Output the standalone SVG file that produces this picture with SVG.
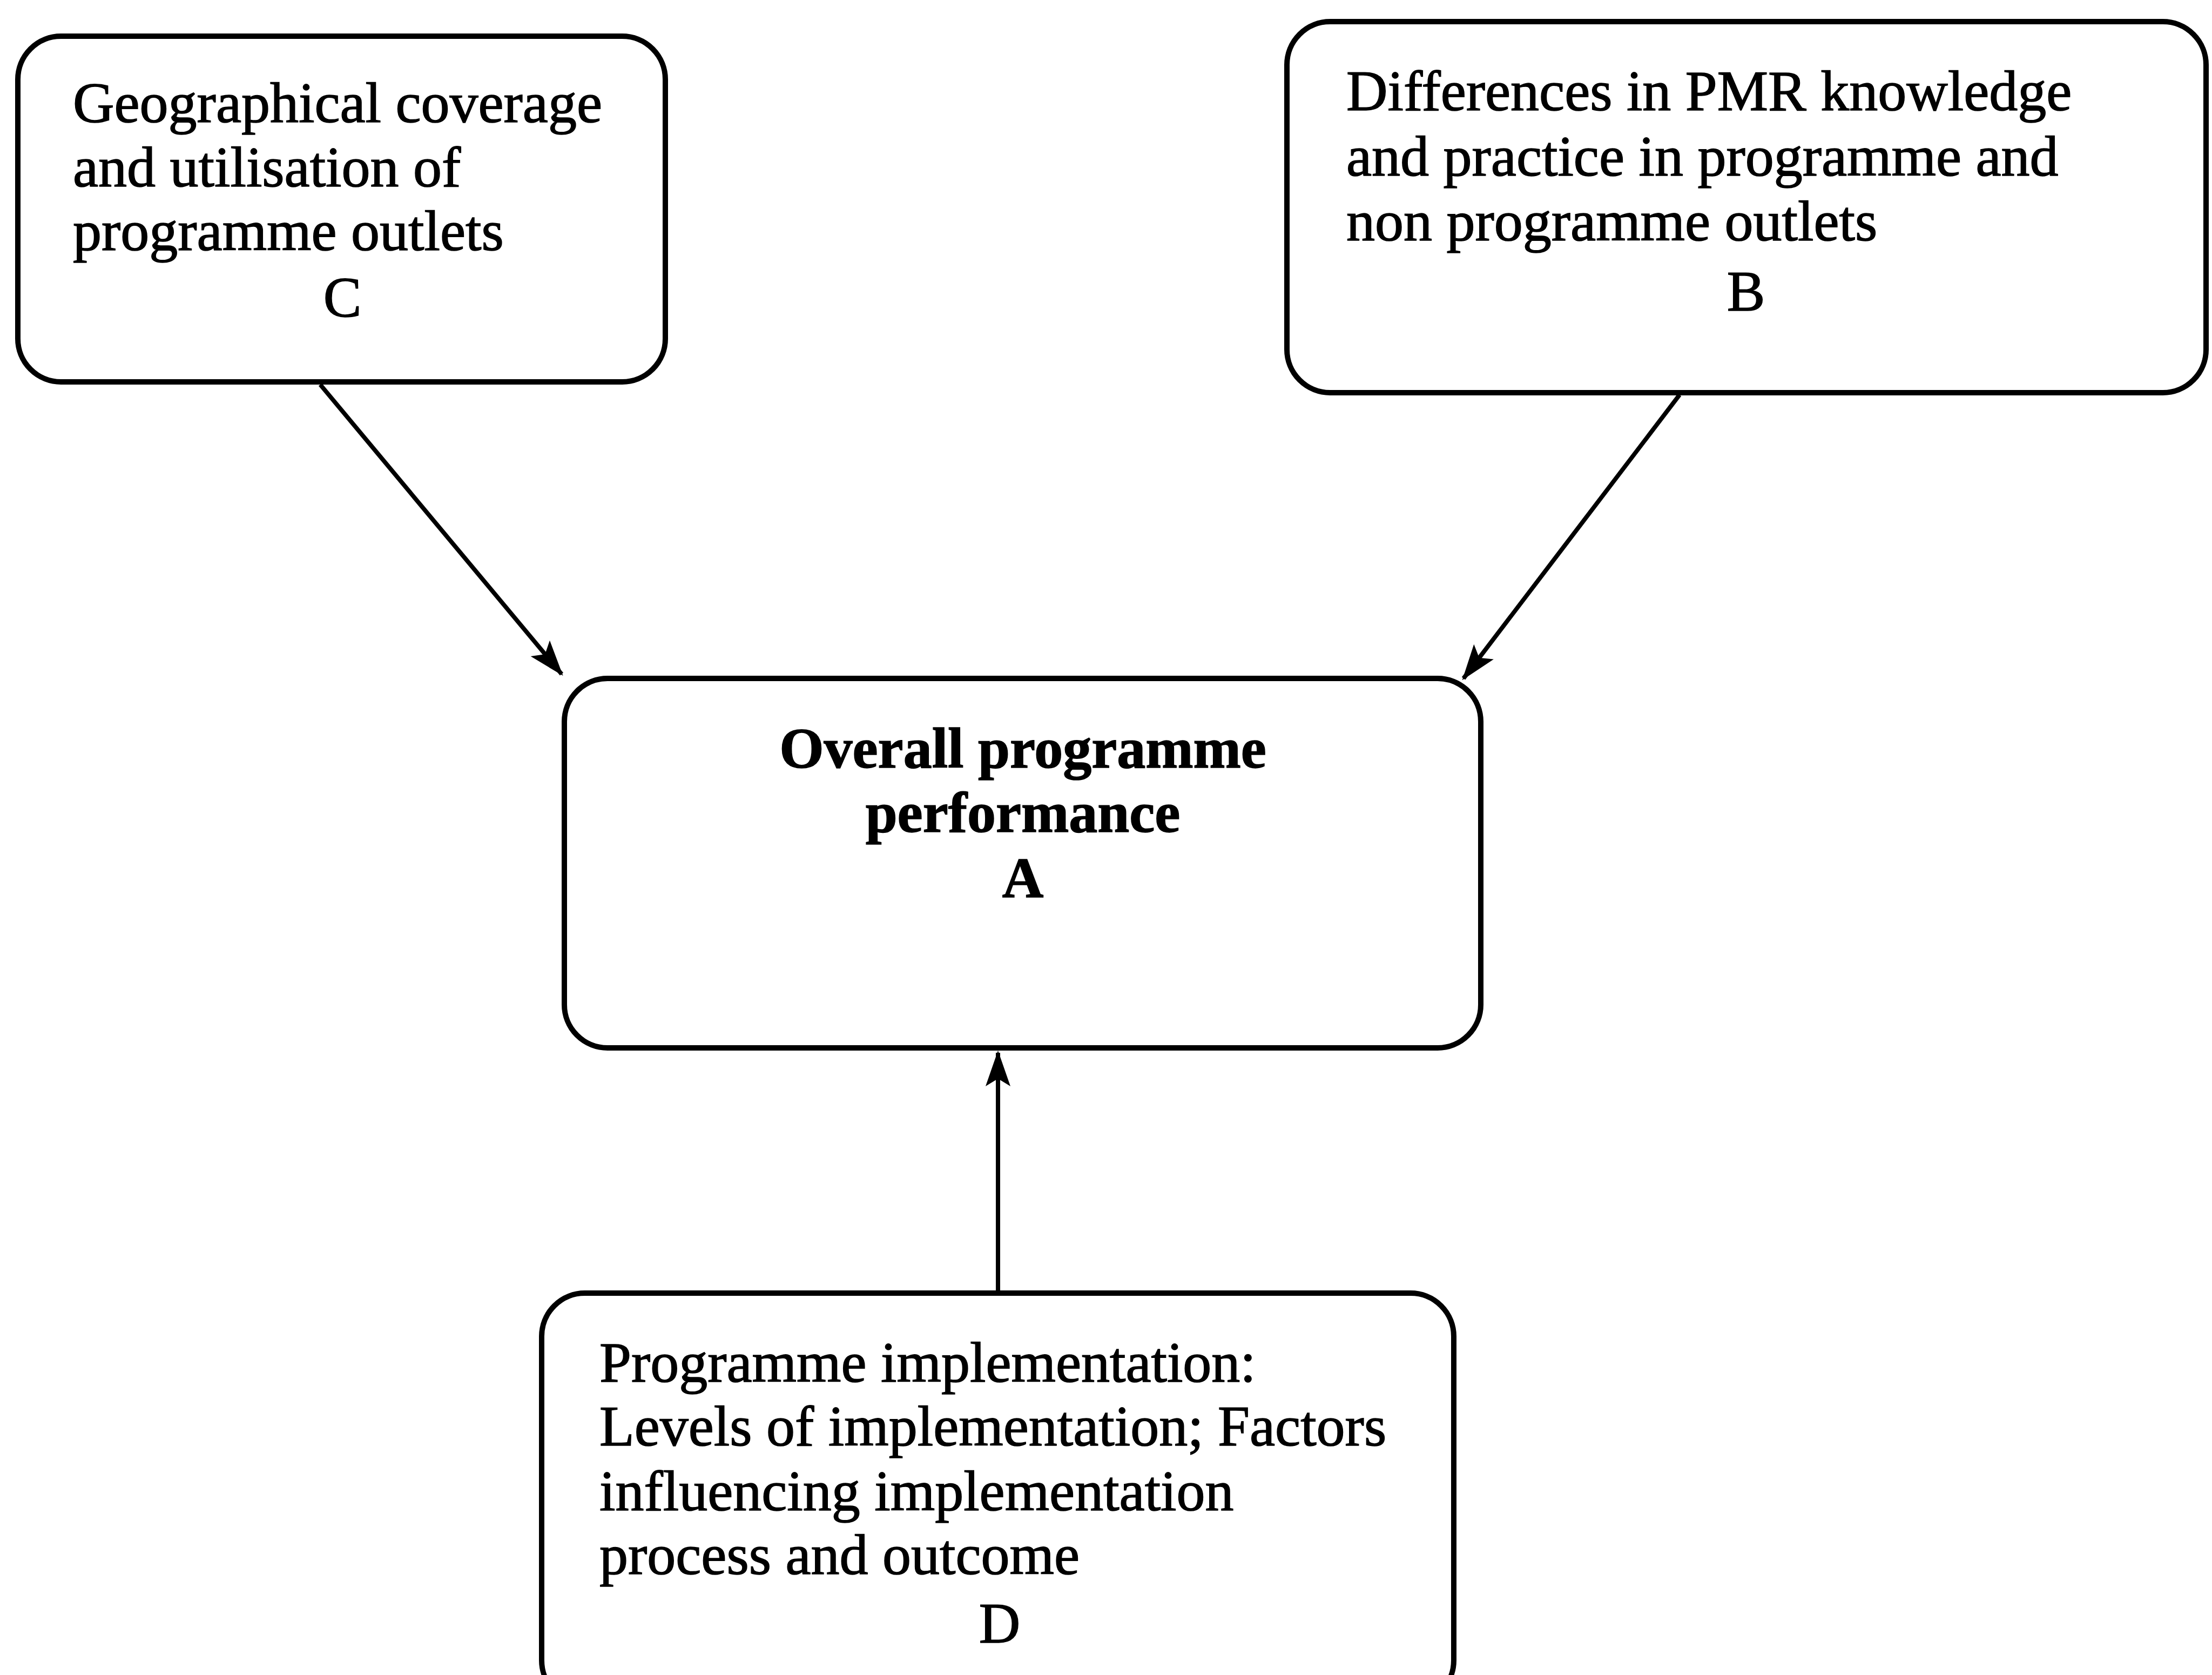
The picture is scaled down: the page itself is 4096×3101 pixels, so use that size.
<svg xmlns="http://www.w3.org/2000/svg" width="4096" height="3101" viewBox="0 0 4096 3101">
<style>
.box{fill:#fff;stroke:#000;stroke-width:10}
.t{font-family:"Liberation Serif","Times New Roman",serif;font-size:106px;fill:#000;stroke:#000;stroke-width:1.5}
.b{font-weight:bold}
.m{text-anchor:middle}
.conn{stroke:#000;stroke-width:8;fill:none}
</style>
<defs>
<marker id="ah" markerUnits="userSpaceOnUse" markerWidth="80" markerHeight="56" refX="62" refY="23" orient="auto">
<path d="M0,0 L66,23 L0,46 L14,23 z" fill="#000"/>
</marker>
</defs>
<rect width="4096" height="3101" fill="#fff"/>
<g id="connectors">
<line class="conn" x1="593" y1="712" x2="1040" y2="1248" marker-end="url(#ah)"/>
<line class="conn" x1="3110" y1="731" x2="2710" y2="1256" marker-end="url(#ah)"/>
<line class="conn" x1="1848" y1="2394" x2="1848" y2="1949" marker-end="url(#ah)"/>
</g>
<g id="nodeC">
<rect class="box" x="33" y="67" width="1199" height="640" rx="80" ry="80"/>
<text class="t" x="135" y="226">Geographical coverage</text>
<text class="t" x="135" y="345">and utilisation of</text>
<text class="t" x="135" y="463">programme outlets</text>
<text class="t m" x="634" y="586">C</text>
</g>
<g id="nodeB">
<rect class="box" x="2383" y="40" width="1702" height="687" rx="80" ry="80"/>
<text class="t" x="2493" y="204">Differences in PMR knowledge</text>
<text class="t" x="2493" y="325">and practice in programme and</text>
<text class="t" x="2493" y="445">non programme outlets</text>
<text class="t m" x="3233" y="575">B</text>
</g>
<g id="nodeA">
<rect class="box" x="1045" y="1256" width="1697" height="684" rx="80" ry="80"/>
<text class="t b m" x="1894" y="1421">Overall programme</text>
<text class="t b m" x="1894" y="1540">performance</text>
<text class="t b m" x="1894" y="1661">A</text>
</g>
<g id="nodeD">
<rect class="box" x="1003" y="2394" width="1689" height="760" rx="80" ry="80"/>
<text class="t" x="1110" y="2558">Programme implementation:</text>
<text class="t" x="1110" y="2676">Levels of implementation; Factors</text>
<text class="t" x="1110" y="2796">influencing implementation</text>
<text class="t" x="1110" y="2914">process and outcome</text>
<text class="t m" x="1851" y="3041">D</text>
</g>
</svg>
